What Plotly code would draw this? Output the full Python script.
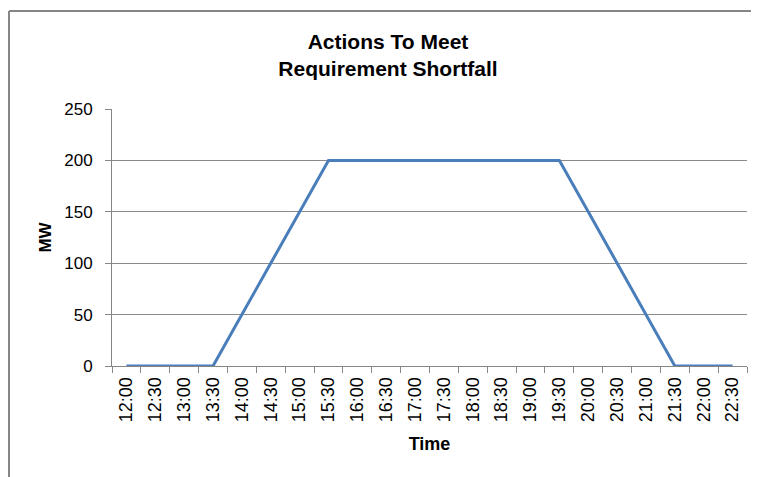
import plotly.graph_objects as go

times = ["12:00", "12:30", "13:00", "13:30", "14:00", "14:30", "15:00", "15:30",
         "16:00", "16:30", "17:00", "17:30", "18:00", "18:30", "19:00", "19:30",
         "20:00", "20:30", "21:00", "21:30", "22:00", "22:30"]
mw = [0, 0, 0, 0, 50, 100, 150, 200,
      200, 200, 200, 200, 200, 200, 200, 200,
      150, 100, 50, 0, 0, 0]
y_ticks = [0, 50, 100, 150, 200, 250]

# page body has an 8px margin; figure sized to fill the rest of the window
W, H = 751, 469
L, R, T, B = 104, 12, 101, 111
pw = W - L - R
ph = H - T - B

FONT = "Liberation Sans, Arial, sans-serif"
GRAY = "#868686"

fig = go.Figure()
fig.add_trace(go.Scatter(
    x=times, y=mw, mode="lines",
    line=dict(color="#4A7EBB", width=3),
    showlegend=False, hoverinfo="x+y",
))

bx = (1 - L) / pw
by = (H - B - 3) / ph
fig.add_shape(type="line", xref="paper", yref="paper",
              x0=bx, y0=-2, x1=bx, y1=by,
              line=dict(color=GRAY, width=2))
fig.add_shape(type="line", xref="paper", yref="paper",
              x0=bx, y0=by, x1=2, y1=by,
              line=dict(color=GRAY, width=2))

fig.update_layout(
    width=W, height=H,
    margin=dict(l=L, r=R, t=T, b=B),
    paper_bgcolor="white", plot_bgcolor="white",
    font=dict(family=FONT, color="#000000", size=16),
    title=dict(
        text="<b>Actions To Meet<br>Requirement Shortfall</b>",
        x=380 / W, xanchor="center",
        yref="container", y=1 - 41 / H, yanchor="middle",
        font=dict(family=FONT, size=21, color="#000000"),
    ),
    xaxis=dict(
        type="category", range=[-0.5, len(times) - 0.5],
        tickson="boundaries", ticks="outside", ticklen=6, tickcolor=GRAY,
        showline=True, linecolor=GRAY, linewidth=1,
        showgrid=False, tickangle=-90, ticklabelstandoff=3,
        tickfont=dict(family=FONT, size=18, color="#000000"),
        title=dict(text="<b>Time</b>", font=dict(family=FONT, size=18), standoff=16),
        fixedrange=True,
    ),
    yaxis=dict(
        range=[0, 250], tickvals=y_ticks,
        ticks="outside", ticklen=6, tickcolor=GRAY,
        showline=True, linecolor=GRAY, linewidth=1,
        showgrid=True, gridcolor="#8a8a8a", gridwidth=1,
        zeroline=False, ticklabelstandoff=9,
        tickfont=dict(family=FONT, size=17, color="#000000"),
        title=dict(text="<b>MW</b>", font=dict(family=FONT, size=17), standoff=8),
        fixedrange=True,
    ),
)

fig.write_html("out.html")
